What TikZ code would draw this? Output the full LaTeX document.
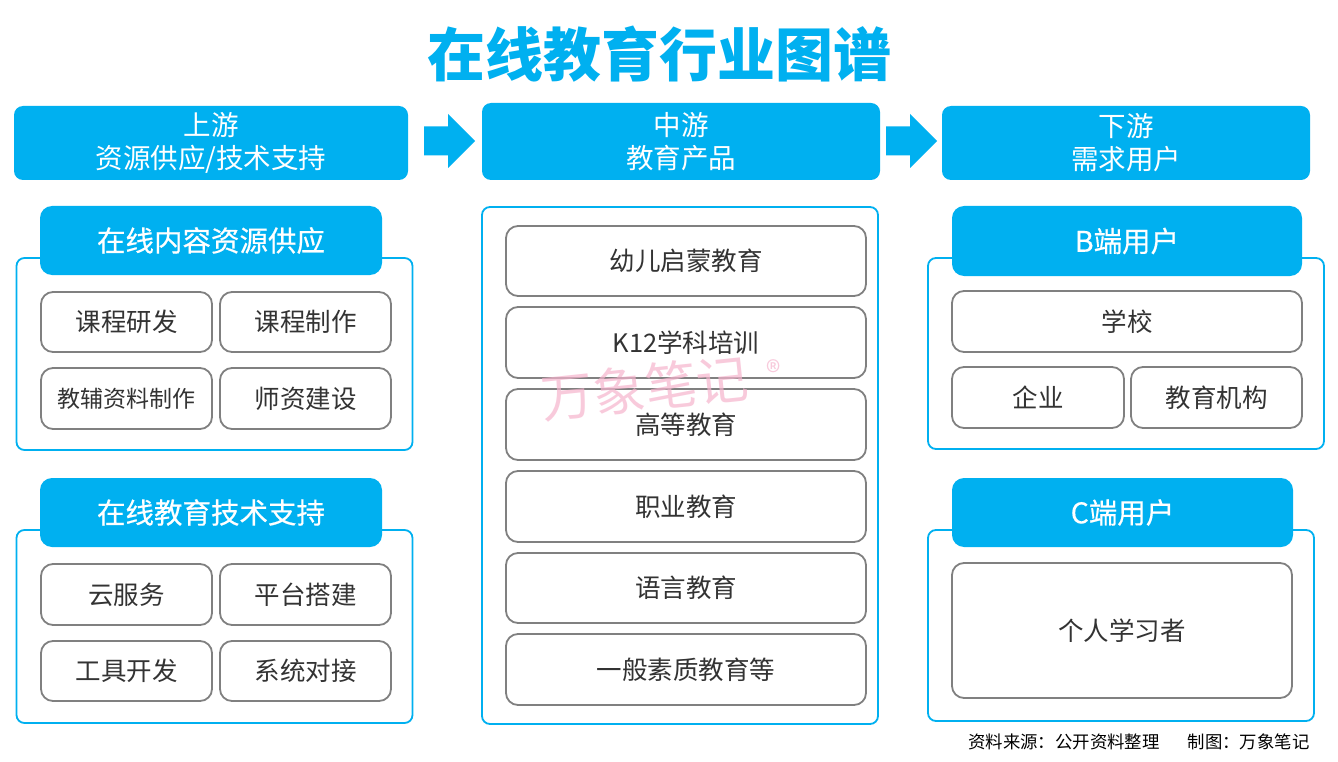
\documentclass[tikz,border=0pt]{standalone}
\usepackage{fontspec}
\setmainfont{Noto Sans CJK SC}
\newfontfamily\cjkmed{Noto Sans CJK SC}[FakeBold=0.5]
\definecolor{cyanb}{RGB}{0,176,240}
\definecolor{itemgray}{RGB}{128,128,128}
\definecolor{txtgray}{RGB}{51,51,51}
\definecolor{wpink}{RGB}{246,180,205}
\tikzset{
  hdr/.style={fill=cyanb, rounded corners=9pt, inner sep=0pt, text=white, align=center, font=\fontsize{27.5}{33}\selectfont},
  tab/.style={fill=cyanb, rounded corners=12pt, inner sep=0pt, text=white, font=\cjkmed\fontsize{28.5}{30}\selectfont},
  frame/.style={draw=cyanb, line width=1.8pt, fill=white, rounded corners=8pt, inner sep=0pt},
  item/.style={draw=itemgray, line width=1.8pt, fill=white, rounded corners=12pt, inner sep=0pt, text=txtgray, font=\fontsize{25.5}{28}\selectfont},
  blockarrow/.style={fill=cyanb, draw=none}
}
\begin{document}
\begin{tikzpicture}[x=1pt,y=-1pt]
\useasboundingbox[fill=white] (0,0) rectangle (1338,762);
% title
\node[text=cyanb, font=\fontsize{58}{62}\selectfont\bfseries] (title) at (659,54) {在线教育行业图谱};
% headers
\node[hdr, minimum width=394, minimum height=74] (up) at (211,143) {上游\\资源供应/技术支持};
\node[hdr, minimum width=398, minimum height=77] (mid) at (681,141.5) {中游\\教育产品};
\node[hdr, minimum width=368, minimum height=74] (down) at (1126,143) {下游\\需求用户};
\coordinate (arr1) at (424,141);
\coordinate (arr2) at (886,141);
\fill[blockarrow] (arr1) ++(0,-14.5) -- ++(24,0) -- ++(0,-12.5) -- ++(27,27) -- ++(-27,27) -- ++(0,-12.5) -- ++(-24,0) -- cycle;
\fill[blockarrow] (arr2) ++(0,-14.5) -- ++(24,0) -- ++(0,-12.5) -- ++(27,27) -- ++(-27,27) -- ++(0,-12.5) -- ++(-24,0) -- cycle;
% left group 1
\node[frame, minimum width=396, minimum height=192] (f1) at (214.5,354) {};
\node[tab, minimum width=342, minimum height=69] (t1) at (211,240.5) {在线内容资源供应};
\node[item, minimum width=171, minimum height=60] (a1) at (126.5,322) {课程研发};
\node[item, minimum width=171, minimum height=60] (a2) at (305.5,322) {课程制作};
\node[item, minimum width=171, minimum height=61, font=\fontsize{23}{26}\selectfont] (a3) at (126.5,398.5) {教辅资料制作};
\node[item, minimum width=171, minimum height=61] (a4) at (305.5,398.5) {师资建设};
% left group 2
\node[frame, minimum width=396, minimum height=193] (f2) at (214.5,626.5) {};
\node[tab, minimum width=342, minimum height=69] (t2) at (211,512.5) {在线教育技术支持};
\node[item, minimum width=171, minimum height=61] (b1) at (126.5,594.5) {云服务};
\node[item, minimum width=171, minimum height=61] (b2) at (305.5,594.5) {平台搭建};
\node[item, minimum width=171, minimum height=60] (b3) at (126.5,671) {工具开发};
\node[item, minimum width=171, minimum height=60] (b4) at (305.5,671) {系统对接};
% middle
\node[frame, minimum width=396, minimum height=517] (fm) at (680,465.5) {};
\node[item, minimum width=360, minimum height=70] (m1) at (686,261) {幼儿启蒙教育};
\node[item, minimum width=360, minimum height=71] (m2) at (686,342.5) {K12学科培训};
\node[item, minimum width=360, minimum height=71] (m3) at (686,424.5) {高等教育};
\node[item, minimum width=360, minimum height=71] (m4) at (686,506.5) {职业教育};
\node[item, minimum width=360, minimum height=70] (m5) at (686,588) {语言教育};
\node[item, minimum width=360, minimum height=71] (m6) at (686,669.5) {一般素质教育等};
% right B
\node[frame, minimum width=396, minimum height=191] (fb) at (1126,353.5) {};
\node[tab, minimum width=350, minimum height=70] (tb) at (1127,241) {B端用户};
\node[item, minimum width=350, minimum height=61] (c1) at (1127,321.5) {学校};
\node[item, minimum width=172, minimum height=61] (c2) at (1038,397.5) {企业};
\node[item, minimum width=171, minimum height=61] (c3) at (1216.5,397.5) {教育机构};
% right C
\node[frame, minimum width=386, minimum height=191] (fc) at (1121,625.5) {};
\node[tab, minimum width=341, minimum height=69] (tc) at (1122.5,512.5) {C端用户};
\node[item, minimum width=340, minimum height=135] (d1) at (1122,630.5) {个人学习者};
% watermark
\node[text=wpink, opacity=0.7, rotate=6, font=\fontsize{52}{56}\selectfont] (wm) at (645,388) {万象笔记};
\node[text=wpink, opacity=0.7, font=\fontsize{30}{32}\selectfont] (wmr) at (774,372) {®};
% footer
\node[anchor=east, text=black, font=\fontsize{17.4}{20}\selectfont] (foot) at (1313,742) {资料来源：公开资料整理\hspace{28pt}制图：万象笔记};
\end{tikzpicture}
\end{document}
